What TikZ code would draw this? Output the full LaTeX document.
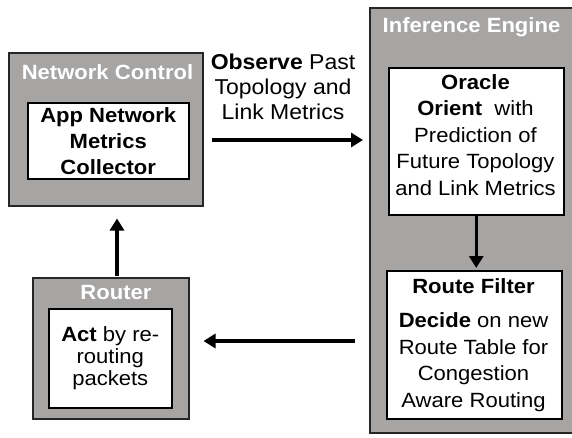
\documentclass[tikz,border=0pt]{standalone}
\usepackage{fontspec}
\setmainfont{Liberation Sans}[FakeStretch=1.07]
\usetikzlibrary{arrows.meta}
\definecolor{boxgrey}{RGB}{167,164,164}
\begin{document}
\begin{tikzpicture}[x=1pt,y=-1pt,
  outbox/.style={draw=black!85, line width=1.5pt, fill=boxgrey, anchor=north west, inner sep=0pt},
  inbox/.style={draw=black, line width=1.5pt, fill=white, anchor=north west, inner sep=0pt, align=center, font=\fontsize{20.6}{26}\selectfont},
  ttl/.style={text=white, font=\fontsize{20.6}{24}\selectfont\bfseries},
  lbl/.style={align=center, font=\fontsize{20.6}{26.5}\selectfont},
  arr/.style={line width=3.5pt, -{Triangle[length=12pt,width=14pt]}}]
\useasboundingbox[fill=white] (0,0) rectangle (572,437);
% Network Control
\node[outbox, minimum width=194pt, minimum height=153pt] (nc) at (8,52) {};
\node[ttl] (nct) at (107.5,72) {Network Control};
\node[inbox, minimum width=161pt, minimum height=76pt, font=\fontsize{20.6}{26}\selectfont\bfseries] (ncin) at (27,102) {App Network\\Metrics\\Collector};
% Router
\node[outbox, minimum width=156pt, minimum height=141pt] (rt) at (32,277) {};
\node[ttl] (rtt) at (116,293) {Router};
\node[inbox, minimum width=123pt, minimum height=99pt, font=\fontsize{20.6}{22}\selectfont] (rtin) at (48,308) {\textbf{Act} by re-\\routing\\packets};
% Inference Engine
\node[outbox, minimum width=220pt, minimum height=425pt] (ie) at (369,7) {};
\node[ttl] (iet) at (471.5,27) {Inference Engine};
\node[inbox, minimum width=175pt, minimum height=147pt] (or) at (388,67) {};
\node[lbl] (ort) at (475.5,135) {\textbf{Oracle}\\\textbf{Orient}\ \ with\\Prediction of\\Future Topology\\and Link Metrics};
\node[inbox, minimum width=175pt, minimum height=148pt] (rf) at (386,270) {};
\node[lbl] (rft) at (473.5,345) {\textbf{Route Filter}\\[8pt]\textbf{Decide} on new\\Route Table for\\Congestion\\Aware Routing};
% Observe label
\node[lbl, font=\fontsize{21.5}{25}\selectfont] (obs) at (283,87) {\textbf{Observe} Past\\Topology and\\Link Metrics};
% Arrows
\coordinate (obsY) at (0,140);
\coordinate (actY) at (0,341);
\coordinate (upX) at (117,0);
\draw[arr, shorten <=8pt, shorten >=6pt] (nc.east |- obsY) -- (ie.west |- obsY);
\draw[arr, shorten <=14pt, shorten >=14pt] (ie.west |- actY) -- (rt.east |- actY);
\draw[arr, shorten <=1pt, shorten >=12pt] (rt.north -| upX) -- (nc.south -| upX);
\draw[arr, shorten >=2pt] (or.south) -- (or.south |- rf.north);
\end{tikzpicture}
\end{document}
